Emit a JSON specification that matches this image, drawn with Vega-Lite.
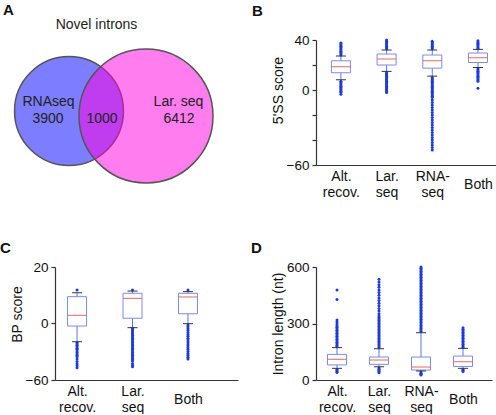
{
  "$schema": "https://vega.github.io/schema/vega-lite/v6.json",
  "background": "white",
  "padding": {"left": 0, "top": 3, "right": 0, "bottom": 0},
  "config": {
    "view": {"stroke": null},
    "font": "Liberation Sans",
    "axis": {"labelFontSize": 14, "titleFontSize": 14, "titleFontWeight": "normal", "labelColor": "#111", "titleColor": "#111", "domainColor": "#333", "tickColor": "#333", "domainWidth": 1.2, "tickWidth": 1.2, "tickSize": 4, "grid": false, "labelOverlap": false, "labelFont": "Liberation Sans", "titleFont": "Liberation Sans"},
    "axisX": {"ticks": false, "labelAngle": 0, "labelPadding": 11, "labelLineHeight": 16},
    "axisY": {"labelPadding": 3, "titlePadding": 1, "labelFontSize": 13.5},
    "title": {"anchor": "start", "frame": "group", "fontSize": 15, "fontWeight": "bold", "color": "#111", "baseline": "alphabetic", "font": "Liberation Sans"}
  },
  "datasets": {
    "venn": [
      {"set": "RNAseq", "count": 4900, "x": 14, "y": 71},
      {"set": "Lar. seq", "count": 7412, "x": 91, "y": 76}
    ],
    "vennText": [
      {"label": "Novel introns", "x": 41.5, "y": -15},
      {"label": "RNAseq", "x": -6.5, "y": 62},
      {"label": "3900", "x": -7, "y": 78.5},
      {"label": "1000", "x": 47, "y": 78.5},
      {"label": "Lar. seq", "x": 123.5, "y": 62},
      {"label": "6412", "x": 124, "y": 78.5}
    ],
    "stats": [
      {"panel": "B", "group": "Alt. recov.", "lo": 8.2, "q1": 13.8, "med": 18.6, "q3": 23.4, "hi": 27.2},
      {"panel": "B", "group": "Lar. seq", "lo": 14.9, "q1": 20, "med": 24.8, "q3": 28.8, "hi": 32},
      {"panel": "B", "group": "RNA-seq", "lo": 11.1, "q1": 17.5, "med": 23.4, "q3": 28, "hi": 32},
      {"panel": "B", "group": "Both", "lo": 18, "q1": 22, "med": 25.8, "q3": 29.6, "hi": 32.5},
      {"panel": "C", "group": "Alt. recov.", "lo": -19.7, "q1": -3.2, "med": 2.75, "q3": 9.4, "hi": 10.8},
      {"panel": "C", "group": "Lar. seq", "lo": -4.9, "q1": 1.7, "med": 8.8, "q3": 10.6, "hi": 11.4},
      {"panel": "C", "group": "Both", "lo": -0.7, "q1": 3.3, "med": 9.3, "q3": 10.6, "hi": 11.2},
      {"panel": "D", "group": "Alt. recov.", "lo": 62, "q1": 80, "med": 110, "q3": 136, "hi": 172},
      {"panel": "D", "group": "Lar. seq", "lo": 71, "q1": 83, "med": 106, "q3": 122, "hi": 166},
      {"panel": "D", "group": "RNA-seq", "lo": 48, "q1": 53, "med": 69, "q3": 122, "hi": 251},
      {"panel": "D", "group": "Both", "lo": 62, "q1": 72, "med": 97, "q3": 127, "hi": 168}
    ],
    "outliers": [
      {"panel": "B", "group": "Alt. recov.", "value": 28},
      {"panel": "B", "group": "Alt. recov.", "value": 29},
      {"panel": "B", "group": "Alt. recov.", "value": 30},
      {"panel": "B", "group": "Alt. recov.", "value": 31},
      {"panel": "B", "group": "Alt. recov.", "value": 32},
      {"panel": "B", "group": "Alt. recov.", "value": 33},
      {"panel": "B", "group": "Alt. recov.", "value": 34},
      {"panel": "B", "group": "Alt. recov.", "value": 35},
      {"panel": "B", "group": "Alt. recov.", "value": 36},
      {"panel": "B", "group": "Alt. recov.", "value": 37},
      {"panel": "B", "group": "Alt. recov.", "value": 37.6},
      {"panel": "B", "group": "Alt. recov.", "value": 7},
      {"panel": "B", "group": "Alt. recov.", "value": 6},
      {"panel": "B", "group": "Alt. recov.", "value": 5},
      {"panel": "B", "group": "Alt. recov.", "value": 4},
      {"panel": "B", "group": "Alt. recov.", "value": 3},
      {"panel": "B", "group": "Alt. recov.", "value": 2},
      {"panel": "B", "group": "Alt. recov.", "value": 1},
      {"panel": "B", "group": "Alt. recov.", "value": 0},
      {"panel": "B", "group": "Alt. recov.", "value": -1},
      {"panel": "B", "group": "Alt. recov.", "value": -2},
      {"panel": "B", "group": "Alt. recov.", "value": -3.3},
      {"panel": "B", "group": "Lar. seq", "value": 33},
      {"panel": "B", "group": "Lar. seq", "value": 34},
      {"panel": "B", "group": "Lar. seq", "value": 35},
      {"panel": "B", "group": "Lar. seq", "value": 36},
      {"panel": "B", "group": "Lar. seq", "value": 37},
      {"panel": "B", "group": "Lar. seq", "value": 38},
      {"panel": "B", "group": "Lar. seq", "value": 39},
      {"panel": "B", "group": "Lar. seq", "value": 40},
      {"panel": "B", "group": "Lar. seq", "value": 14},
      {"panel": "B", "group": "Lar. seq", "value": 13},
      {"panel": "B", "group": "Lar. seq", "value": 12},
      {"panel": "B", "group": "Lar. seq", "value": 11},
      {"panel": "B", "group": "Lar. seq", "value": 10},
      {"panel": "B", "group": "Lar. seq", "value": 9},
      {"panel": "B", "group": "Lar. seq", "value": 8},
      {"panel": "B", "group": "Lar. seq", "value": 7},
      {"panel": "B", "group": "Lar. seq", "value": 6},
      {"panel": "B", "group": "Lar. seq", "value": 5},
      {"panel": "B", "group": "Lar. seq", "value": 4},
      {"panel": "B", "group": "Lar. seq", "value": 3},
      {"panel": "B", "group": "Lar. seq", "value": 2},
      {"panel": "B", "group": "Lar. seq", "value": 1},
      {"panel": "B", "group": "Lar. seq", "value": 0},
      {"panel": "B", "group": "Lar. seq", "value": -1},
      {"panel": "B", "group": "Lar. seq", "value": -2},
      {"panel": "B", "group": "RNA-seq", "value": 33},
      {"panel": "B", "group": "RNA-seq", "value": 34},
      {"panel": "B", "group": "RNA-seq", "value": 35},
      {"panel": "B", "group": "RNA-seq", "value": 36},
      {"panel": "B", "group": "RNA-seq", "value": 37},
      {"panel": "B", "group": "RNA-seq", "value": 38},
      {"panel": "B", "group": "RNA-seq", "value": 39},
      {"panel": "B", "group": "RNA-seq", "value": 10},
      {"panel": "B", "group": "RNA-seq", "value": 9},
      {"panel": "B", "group": "RNA-seq", "value": 8},
      {"panel": "B", "group": "RNA-seq", "value": 7},
      {"panel": "B", "group": "RNA-seq", "value": 6},
      {"panel": "B", "group": "RNA-seq", "value": 5},
      {"panel": "B", "group": "RNA-seq", "value": 4},
      {"panel": "B", "group": "RNA-seq", "value": 3},
      {"panel": "B", "group": "RNA-seq", "value": 2},
      {"panel": "B", "group": "RNA-seq", "value": 1},
      {"panel": "B", "group": "RNA-seq", "value": 0},
      {"panel": "B", "group": "RNA-seq", "value": -1},
      {"panel": "B", "group": "RNA-seq", "value": -2},
      {"panel": "B", "group": "RNA-seq", "value": -3},
      {"panel": "B", "group": "RNA-seq", "value": -4},
      {"panel": "B", "group": "RNA-seq", "value": -5},
      {"panel": "B", "group": "RNA-seq", "value": -6},
      {"panel": "B", "group": "RNA-seq", "value": -8},
      {"panel": "B", "group": "RNA-seq", "value": -10},
      {"panel": "B", "group": "RNA-seq", "value": -12},
      {"panel": "B", "group": "RNA-seq", "value": -14},
      {"panel": "B", "group": "RNA-seq", "value": -16},
      {"panel": "B", "group": "RNA-seq", "value": -18},
      {"panel": "B", "group": "RNA-seq", "value": -20},
      {"panel": "B", "group": "RNA-seq", "value": -22},
      {"panel": "B", "group": "RNA-seq", "value": -24},
      {"panel": "B", "group": "RNA-seq", "value": -26},
      {"panel": "B", "group": "RNA-seq", "value": -28},
      {"panel": "B", "group": "RNA-seq", "value": -30},
      {"panel": "B", "group": "RNA-seq", "value": -32},
      {"panel": "B", "group": "RNA-seq", "value": -34},
      {"panel": "B", "group": "RNA-seq", "value": -36},
      {"panel": "B", "group": "RNA-seq", "value": -38},
      {"panel": "B", "group": "RNA-seq", "value": -40},
      {"panel": "B", "group": "RNA-seq", "value": -42},
      {"panel": "B", "group": "RNA-seq", "value": -44},
      {"panel": "B", "group": "RNA-seq", "value": -46},
      {"panel": "B", "group": "RNA-seq", "value": -48},
      {"panel": "B", "group": "Both", "value": 33.5},
      {"panel": "B", "group": "Both", "value": 34.5},
      {"panel": "B", "group": "Both", "value": 35.5},
      {"panel": "B", "group": "Both", "value": 36.5},
      {"panel": "B", "group": "Both", "value": 37.5},
      {"panel": "B", "group": "Both", "value": 38.5},
      {"panel": "B", "group": "Both", "value": 39.5},
      {"panel": "B", "group": "Both", "value": 17},
      {"panel": "B", "group": "Both", "value": 16},
      {"panel": "B", "group": "Both", "value": 15},
      {"panel": "B", "group": "Both", "value": 14},
      {"panel": "B", "group": "Both", "value": 13},
      {"panel": "B", "group": "Both", "value": 12},
      {"panel": "B", "group": "Both", "value": 11},
      {"panel": "B", "group": "Both", "value": 10},
      {"panel": "B", "group": "Both", "value": 9},
      {"panel": "B", "group": "Both", "value": 8},
      {"panel": "B", "group": "Both", "value": 7},
      {"panel": "B", "group": "Both", "value": 1.5},
      {"panel": "C", "group": "Alt. recov.", "value": 11.8},
      {"panel": "C", "group": "Alt. recov.", "value": -20.5},
      {"panel": "C", "group": "Alt. recov.", "value": -22},
      {"panel": "C", "group": "Alt. recov.", "value": -23.5},
      {"panel": "C", "group": "Alt. recov.", "value": -25},
      {"panel": "C", "group": "Alt. recov.", "value": -26.5},
      {"panel": "C", "group": "Alt. recov.", "value": -28},
      {"panel": "C", "group": "Alt. recov.", "value": -29.5},
      {"panel": "C", "group": "Alt. recov.", "value": -31},
      {"panel": "C", "group": "Alt. recov.", "value": -32.5},
      {"panel": "C", "group": "Alt. recov.", "value": -34},
      {"panel": "C", "group": "Alt. recov.", "value": -35.5},
      {"panel": "C", "group": "Alt. recov.", "value": -38},
      {"panel": "C", "group": "Alt. recov.", "value": -40.5},
      {"panel": "C", "group": "Alt. recov.", "value": -43},
      {"panel": "C", "group": "Alt. recov.", "value": -45},
      {"panel": "C", "group": "Alt. recov.", "value": -47},
      {"panel": "C", "group": "Lar. seq", "value": 11.8},
      {"panel": "C", "group": "Lar. seq", "value": -5.5},
      {"panel": "C", "group": "Lar. seq", "value": -7},
      {"panel": "C", "group": "Lar. seq", "value": -8.5},
      {"panel": "C", "group": "Lar. seq", "value": -10},
      {"panel": "C", "group": "Lar. seq", "value": -11.5},
      {"panel": "C", "group": "Lar. seq", "value": -13},
      {"panel": "C", "group": "Lar. seq", "value": -14.5},
      {"panel": "C", "group": "Lar. seq", "value": -16},
      {"panel": "C", "group": "Lar. seq", "value": -17.5},
      {"panel": "C", "group": "Lar. seq", "value": -19},
      {"panel": "C", "group": "Lar. seq", "value": -20.5},
      {"panel": "C", "group": "Lar. seq", "value": -22},
      {"panel": "C", "group": "Lar. seq", "value": -23.5},
      {"panel": "C", "group": "Lar. seq", "value": -25},
      {"panel": "C", "group": "Lar. seq", "value": -26.5},
      {"panel": "C", "group": "Lar. seq", "value": -28},
      {"panel": "C", "group": "Lar. seq", "value": -29.5},
      {"panel": "C", "group": "Lar. seq", "value": -31},
      {"panel": "C", "group": "Lar. seq", "value": -32.5},
      {"panel": "C", "group": "Lar. seq", "value": -34},
      {"panel": "C", "group": "Lar. seq", "value": -35.5},
      {"panel": "C", "group": "Lar. seq", "value": -37},
      {"panel": "C", "group": "Lar. seq", "value": -38.5},
      {"panel": "C", "group": "Lar. seq", "value": -40},
      {"panel": "C", "group": "Lar. seq", "value": -42.5},
      {"panel": "C", "group": "Lar. seq", "value": -44.5},
      {"panel": "C", "group": "Lar. seq", "value": -46},
      {"panel": "C", "group": "Both", "value": 11.8},
      {"panel": "C", "group": "Both", "value": -2},
      {"panel": "C", "group": "Both", "value": -4},
      {"panel": "C", "group": "Both", "value": -6},
      {"panel": "C", "group": "Both", "value": -8},
      {"panel": "C", "group": "Both", "value": -10},
      {"panel": "C", "group": "Both", "value": -12},
      {"panel": "C", "group": "Both", "value": -14},
      {"panel": "C", "group": "Both", "value": -16},
      {"panel": "C", "group": "Both", "value": -18},
      {"panel": "C", "group": "Both", "value": -20},
      {"panel": "C", "group": "Both", "value": -22},
      {"panel": "C", "group": "Both", "value": -24},
      {"panel": "C", "group": "Both", "value": -26},
      {"panel": "C", "group": "Both", "value": -28},
      {"panel": "C", "group": "Both", "value": -30},
      {"panel": "C", "group": "Both", "value": -32},
      {"panel": "C", "group": "Both", "value": -34},
      {"panel": "C", "group": "Both", "value": -36},
      {"panel": "C", "group": "Both", "value": -38},
      {"panel": "D", "group": "Alt. recov.", "value": 56},
      {"panel": "D", "group": "Alt. recov.", "value": 50},
      {"panel": "D", "group": "Alt. recov.", "value": 44},
      {"panel": "D", "group": "Alt. recov.", "value": 40},
      {"panel": "D", "group": "Alt. recov.", "value": 176},
      {"panel": "D", "group": "Alt. recov.", "value": 184},
      {"panel": "D", "group": "Alt. recov.", "value": 192},
      {"panel": "D", "group": "Alt. recov.", "value": 200},
      {"panel": "D", "group": "Alt. recov.", "value": 208},
      {"panel": "D", "group": "Alt. recov.", "value": 216},
      {"panel": "D", "group": "Alt. recov.", "value": 224},
      {"panel": "D", "group": "Alt. recov.", "value": 232},
      {"panel": "D", "group": "Alt. recov.", "value": 240},
      {"panel": "D", "group": "Alt. recov.", "value": 248},
      {"panel": "D", "group": "Alt. recov.", "value": 256},
      {"panel": "D", "group": "Alt. recov.", "value": 264},
      {"panel": "D", "group": "Alt. recov.", "value": 272},
      {"panel": "D", "group": "Alt. recov.", "value": 280},
      {"panel": "D", "group": "Alt. recov.", "value": 288},
      {"panel": "D", "group": "Alt. recov.", "value": 298},
      {"panel": "D", "group": "Alt. recov.", "value": 308},
      {"panel": "D", "group": "Alt. recov.", "value": 318},
      {"panel": "D", "group": "Alt. recov.", "value": 428},
      {"panel": "D", "group": "Alt. recov.", "value": 478},
      {"panel": "D", "group": "Lar. seq", "value": 64},
      {"panel": "D", "group": "Lar. seq", "value": 57},
      {"panel": "D", "group": "Lar. seq", "value": 50},
      {"panel": "D", "group": "Lar. seq", "value": 44},
      {"panel": "D", "group": "Lar. seq", "value": 38},
      {"panel": "D", "group": "Lar. seq", "value": 172},
      {"panel": "D", "group": "Lar. seq", "value": 180},
      {"panel": "D", "group": "Lar. seq", "value": 188},
      {"panel": "D", "group": "Lar. seq", "value": 196},
      {"panel": "D", "group": "Lar. seq", "value": 204},
      {"panel": "D", "group": "Lar. seq", "value": 212},
      {"panel": "D", "group": "Lar. seq", "value": 220},
      {"panel": "D", "group": "Lar. seq", "value": 228},
      {"panel": "D", "group": "Lar. seq", "value": 236},
      {"panel": "D", "group": "Lar. seq", "value": 244},
      {"panel": "D", "group": "Lar. seq", "value": 252},
      {"panel": "D", "group": "Lar. seq", "value": 260},
      {"panel": "D", "group": "Lar. seq", "value": 268},
      {"panel": "D", "group": "Lar. seq", "value": 276},
      {"panel": "D", "group": "Lar. seq", "value": 284},
      {"panel": "D", "group": "Lar. seq", "value": 292},
      {"panel": "D", "group": "Lar. seq", "value": 300},
      {"panel": "D", "group": "Lar. seq", "value": 308},
      {"panel": "D", "group": "Lar. seq", "value": 316},
      {"panel": "D", "group": "Lar. seq", "value": 324},
      {"panel": "D", "group": "Lar. seq", "value": 332},
      {"panel": "D", "group": "Lar. seq", "value": 340},
      {"panel": "D", "group": "Lar. seq", "value": 352},
      {"panel": "D", "group": "Lar. seq", "value": 366},
      {"panel": "D", "group": "Lar. seq", "value": 380},
      {"panel": "D", "group": "Lar. seq", "value": 394},
      {"panel": "D", "group": "Lar. seq", "value": 408},
      {"panel": "D", "group": "Lar. seq", "value": 422},
      {"panel": "D", "group": "Lar. seq", "value": 436},
      {"panel": "D", "group": "Lar. seq", "value": 450},
      {"panel": "D", "group": "Lar. seq", "value": 464},
      {"panel": "D", "group": "Lar. seq", "value": 478},
      {"panel": "D", "group": "Lar. seq", "value": 492},
      {"panel": "D", "group": "Lar. seq", "value": 506},
      {"panel": "D", "group": "Lar. seq", "value": 520},
      {"panel": "D", "group": "Lar. seq", "value": 535},
      {"panel": "D", "group": "RNA-seq", "value": 42},
      {"panel": "D", "group": "RNA-seq", "value": 36},
      {"panel": "D", "group": "RNA-seq", "value": 30},
      {"panel": "D", "group": "RNA-seq", "value": 26},
      {"panel": "D", "group": "RNA-seq", "value": 258},
      {"panel": "D", "group": "RNA-seq", "value": 266},
      {"panel": "D", "group": "RNA-seq", "value": 274},
      {"panel": "D", "group": "RNA-seq", "value": 282},
      {"panel": "D", "group": "RNA-seq", "value": 290},
      {"panel": "D", "group": "RNA-seq", "value": 298},
      {"panel": "D", "group": "RNA-seq", "value": 306},
      {"panel": "D", "group": "RNA-seq", "value": 314},
      {"panel": "D", "group": "RNA-seq", "value": 322},
      {"panel": "D", "group": "RNA-seq", "value": 330},
      {"panel": "D", "group": "RNA-seq", "value": 338},
      {"panel": "D", "group": "RNA-seq", "value": 346},
      {"panel": "D", "group": "RNA-seq", "value": 354},
      {"panel": "D", "group": "RNA-seq", "value": 362},
      {"panel": "D", "group": "RNA-seq", "value": 370},
      {"panel": "D", "group": "RNA-seq", "value": 378},
      {"panel": "D", "group": "RNA-seq", "value": 386},
      {"panel": "D", "group": "RNA-seq", "value": 394},
      {"panel": "D", "group": "RNA-seq", "value": 402},
      {"panel": "D", "group": "RNA-seq", "value": 410},
      {"panel": "D", "group": "RNA-seq", "value": 418},
      {"panel": "D", "group": "RNA-seq", "value": 426},
      {"panel": "D", "group": "RNA-seq", "value": 434},
      {"panel": "D", "group": "RNA-seq", "value": 442},
      {"panel": "D", "group": "RNA-seq", "value": 450},
      {"panel": "D", "group": "RNA-seq", "value": 458},
      {"panel": "D", "group": "RNA-seq", "value": 466},
      {"panel": "D", "group": "RNA-seq", "value": 474},
      {"panel": "D", "group": "RNA-seq", "value": 482},
      {"panel": "D", "group": "RNA-seq", "value": 490},
      {"panel": "D", "group": "RNA-seq", "value": 498},
      {"panel": "D", "group": "RNA-seq", "value": 506},
      {"panel": "D", "group": "RNA-seq", "value": 514},
      {"panel": "D", "group": "RNA-seq", "value": 522},
      {"panel": "D", "group": "RNA-seq", "value": 530},
      {"panel": "D", "group": "RNA-seq", "value": 538},
      {"panel": "D", "group": "RNA-seq", "value": 546},
      {"panel": "D", "group": "RNA-seq", "value": 554},
      {"panel": "D", "group": "RNA-seq", "value": 562},
      {"panel": "D", "group": "RNA-seq", "value": 570},
      {"panel": "D", "group": "RNA-seq", "value": 578},
      {"panel": "D", "group": "RNA-seq", "value": 586},
      {"panel": "D", "group": "RNA-seq", "value": 594},
      {"panel": "D", "group": "RNA-seq", "value": 600},
      {"panel": "D", "group": "Both", "value": 56},
      {"panel": "D", "group": "Both", "value": 50},
      {"panel": "D", "group": "Both", "value": 45},
      {"panel": "D", "group": "Both", "value": 174},
      {"panel": "D", "group": "Both", "value": 182},
      {"panel": "D", "group": "Both", "value": 190},
      {"panel": "D", "group": "Both", "value": 198},
      {"panel": "D", "group": "Both", "value": 206},
      {"panel": "D", "group": "Both", "value": 214},
      {"panel": "D", "group": "Both", "value": 222},
      {"panel": "D", "group": "Both", "value": 230},
      {"panel": "D", "group": "Both", "value": 238},
      {"panel": "D", "group": "Both", "value": 246},
      {"panel": "D", "group": "Both", "value": 254},
      {"panel": "D", "group": "Both", "value": 262},
      {"panel": "D", "group": "Both", "value": 270},
      {"panel": "D", "group": "Both", "value": 278}
    ]
  },
  "bounds": "flush",
  "columns": 2,
  "spacing": {"row": 77, "column": 78},
  "concat": [
    {
      "width": 183,
      "height": 150,
      "title": {"text": "A", "dx": -52, "offset": 0},
      "encoding": {
        "x": {"field": "x", "type": "quantitative", "scale": {"domain": [0, 183], "nice": false, "zero": false}, "axis": null},
        "y": {"field": "y", "type": "quantitative", "scale": {"domain": [0, 150], "nice": false, "zero": false, "reverse": true}, "axis": null}
      },
      "layer": [
        {
          "data": {"name": "venn"},
          "mark": {"type": "point", "shape": "circle", "filled": true, "opacity": 1, "fillOpacity": 0.51, "stroke": "#555555", "strokeWidth": 1.5, "strokeOpacity": 1},
          "encoding": {
            "size": {"field": "count", "type": "quantitative", "scale": {"domain": [0, 7412], "range": [0, 17956]}, "legend": null},
            "color": {"field": "set", "type": "nominal", "scale": {"domain": ["RNAseq", "Lar. seq"], "range": ["#0000ff", "#ff00dd"]}, "legend": null}
          }
        },
        {
          "data": {"name": "vennText"},
          "mark": {"type": "text", "fontSize": 14, "color": "#222222", "baseline": "middle", "font": "Liberation Sans"},
          "encoding": {"text": {"field": "label", "type": "nominal"}}
        }
      ]
    },
    {
      "width": 180,
      "height": 125,
      "title": {"text": "B", "dx": -64, "offset": 14},
      "encoding": {
        "x": {"field": "group", "type": "nominal", "scale": {"type": "point", "domain": ["Alt. recov.", "Lar. seq", "RNA-seq", "Both"], "padding": 0.47, "align": 0.58},
          "axis": {"title": null, "labelBaseline": {"condition": {"test": "datum.value == 'Both'", "value": "line-top"}, "value": "middle"}, "labelExpr": "datum.value == 'Alt. recov.' ? ['Alt.', 'recov.'] : datum.value == 'Lar. seq' ? ['Lar.', 'seq'] : datum.value == 'RNA-seq' ? ['RNA-', 'seq'] : datum.value"}}
      },
      "layer": [
        {
          "data": {"name": "stats"},
          "transform": [{"filter": "datum.panel == 'B'"}],
          "mark": {"type": "rule", "color": "#6075e5", "strokeWidth": 1},
          "encoding": {
            "y": {"field": "lo", "type": "quantitative", "scale": {"domain": [-60, 40], "nice": false, "zero": false},
              "axis": {"title": "5'SS score", "values": [40, 20, 0, -20, -40, -60], "tickCount": 10, "labelOpacity": {"condition": {"test": "datum.value == 20 || datum.value == -20 || datum.value == -40", "value": 0}, "value": 1}, "titleY": 50}},
            "y2": {"field": "hi"}
          }
        },
        {
          "data": {"name": "outliers"},
          "transform": [{"filter": "datum.panel == 'B'"}],
          "mark": {"type": "point", "filled": true, "size": 9, "opacity": 1, "color": "#1c3ae0", "strokeWidth": 0},
          "encoding": {"y": {"field": "value", "type": "quantitative"}}
        },
        {
          "data": {"name": "stats"},
          "transform": [{"filter": "datum.panel == 'B'"}],
          "mark": {"type": "bar", "size": 19, "fill": "white", "stroke": "#7a8cec", "strokeWidth": 1},
          "encoding": {"y": {"field": "q1", "type": "quantitative"}, "y2": {"field": "q3"}}
        },
        {
          "data": {"name": "stats"},
          "transform": [{"filter": "datum.panel == 'B'"}],
          "mark": {"type": "tick", "size": 19, "thickness": 1, "color": "#e8685c", "opacity": 1},
          "encoding": {"y": {"field": "med", "type": "quantitative"}}
        },
        {
          "data": {"name": "stats"},
          "transform": [{"filter": "datum.panel == 'B'"}],
          "mark": {"type": "tick", "size": 10, "thickness": 1, "color": "#333333", "opacity": 1},
          "encoding": {"y": {"field": "lo", "type": "quantitative"}}
        },
        {
          "data": {"name": "stats"},
          "transform": [{"filter": "datum.panel == 'B'"}],
          "mark": {"type": "tick", "size": 10, "thickness": 1, "color": "#333333", "opacity": 1},
          "encoding": {"y": {"field": "hi", "type": "quantitative"}}
        }
      ]
    },
    {
      "width": 183,
      "height": 113,
      "title": {"text": "C", "dx": -55, "offset": 4},
      "encoding": {
        "x": {"field": "group", "type": "nominal", "scale": {"type": "point", "domain": ["Alt. recov.", "Lar. seq", "Both"], "padding": 0.65, "align": 0.306},
          "axis": {"title": null, "labelBaseline": {"condition": {"test": "datum.value == 'Both'", "value": "line-top"}, "value": "middle"}, "labelExpr": "datum.value == 'Alt. recov.' ? ['Alt.', 'recov.'] : datum.value == 'Lar. seq' ? ['Lar.', 'seq'] : datum.value == 'RNA-seq' ? ['RNA-', 'seq'] : datum.value"}}
      },
      "layer": [
        {
          "data": {"name": "stats"},
          "transform": [{"filter": "datum.panel == 'C'"}],
          "mark": {"type": "rule", "color": "#6075e5", "strokeWidth": 1},
          "encoding": {
            "y": {"field": "lo", "type": "quantitative", "scale": {"domain": [-60, 0, 20], "range": [113, 56, 0], "nice": false, "zero": false},
              "axis": {"title": "BP score", "values": [20, 0, -60], "tickCount": 10, "titleY": 47}},
            "y2": {"field": "hi"}
          }
        },
        {
          "data": {"name": "outliers"},
          "transform": [{"filter": "datum.panel == 'C'"}],
          "mark": {"type": "point", "filled": true, "size": 9, "opacity": 1, "color": "#1c3ae0", "strokeWidth": 0},
          "encoding": {"y": {"field": "value", "type": "quantitative"}}
        },
        {
          "data": {"name": "stats"},
          "transform": [{"filter": "datum.panel == 'C'"}],
          "mark": {"type": "bar", "size": 19, "fill": "white", "stroke": "#7a8cec", "strokeWidth": 1},
          "encoding": {"y": {"field": "q1", "type": "quantitative"}, "y2": {"field": "q3"}}
        },
        {
          "data": {"name": "stats"},
          "transform": [{"filter": "datum.panel == 'C'"}],
          "mark": {"type": "tick", "size": 19, "thickness": 1, "color": "#e8685c", "opacity": 1},
          "encoding": {"y": {"field": "med", "type": "quantitative"}}
        },
        {
          "data": {"name": "stats"},
          "transform": [{"filter": "datum.panel == 'C'"}],
          "mark": {"type": "tick", "size": 10, "thickness": 1, "color": "#333333", "opacity": 1},
          "encoding": {"y": {"field": "lo", "type": "quantitative"}}
        },
        {
          "data": {"name": "stats"},
          "transform": [{"filter": "datum.panel == 'C'"}],
          "mark": {"type": "tick", "size": 10, "thickness": 1, "color": "#333333", "opacity": 1},
          "encoding": {"y": {"field": "hi", "type": "quantitative"}}
        }
      ]
    },
    {
      "width": 176,
      "height": 113,
      "title": {"text": "D", "dx": -65, "offset": 4},
      "encoding": {
        "x": {"field": "group", "type": "nominal", "scale": {"type": "point", "domain": ["Alt. recov.", "Lar. seq", "RNA-seq", "Both"], "padding": 0.595, "align": 0.42},
          "axis": {"title": null, "labelBaseline": {"condition": {"test": "datum.value == 'Both'", "value": "line-top"}, "value": "middle"}, "labelExpr": "datum.value == 'Alt. recov.' ? ['Alt.', 'recov.'] : datum.value == 'Lar. seq' ? ['Lar.', 'seq'] : datum.value == 'RNA-seq' ? ['RNA-', 'seq'] : datum.value"}}
      },
      "layer": [
        {
          "data": {"name": "stats"},
          "transform": [{"filter": "datum.panel == 'D'"}],
          "mark": {"type": "rule", "color": "#6075e5", "strokeWidth": 1},
          "encoding": {
            "y": {"field": "lo", "type": "quantitative", "scale": {"domain": [0, 600], "nice": false, "zero": false},
              "axis": {"title": "Intron length (nt)", "values": [600, 300, 0], "tickCount": 10}},
            "y2": {"field": "hi"}
          }
        },
        {
          "data": {"name": "outliers"},
          "transform": [{"filter": "datum.panel == 'D'"}],
          "mark": {"type": "point", "filled": true, "size": 9, "opacity": 1, "color": "#1c3ae0", "strokeWidth": 0},
          "encoding": {"y": {"field": "value", "type": "quantitative"}}
        },
        {
          "data": {"name": "stats"},
          "transform": [{"filter": "datum.panel == 'D'"}],
          "mark": {"type": "bar", "size": 19, "fill": "white", "stroke": "#7a8cec", "strokeWidth": 1},
          "encoding": {"y": {"field": "q1", "type": "quantitative"}, "y2": {"field": "q3"}}
        },
        {
          "data": {"name": "stats"},
          "transform": [{"filter": "datum.panel == 'D'"}],
          "mark": {"type": "tick", "size": 19, "thickness": 1, "color": "#e8685c", "opacity": 1},
          "encoding": {"y": {"field": "med", "type": "quantitative"}}
        },
        {
          "data": {"name": "stats"},
          "transform": [{"filter": "datum.panel == 'D'"}],
          "mark": {"type": "tick", "size": 10, "thickness": 1, "color": "#333333", "opacity": 1},
          "encoding": {"y": {"field": "lo", "type": "quantitative"}}
        },
        {
          "data": {"name": "stats"},
          "transform": [{"filter": "datum.panel == 'D'"}],
          "mark": {"type": "tick", "size": 10, "thickness": 1, "color": "#333333", "opacity": 1},
          "encoding": {"y": {"field": "hi", "type": "quantitative"}}
        }
      ]
    }
  ]
}
